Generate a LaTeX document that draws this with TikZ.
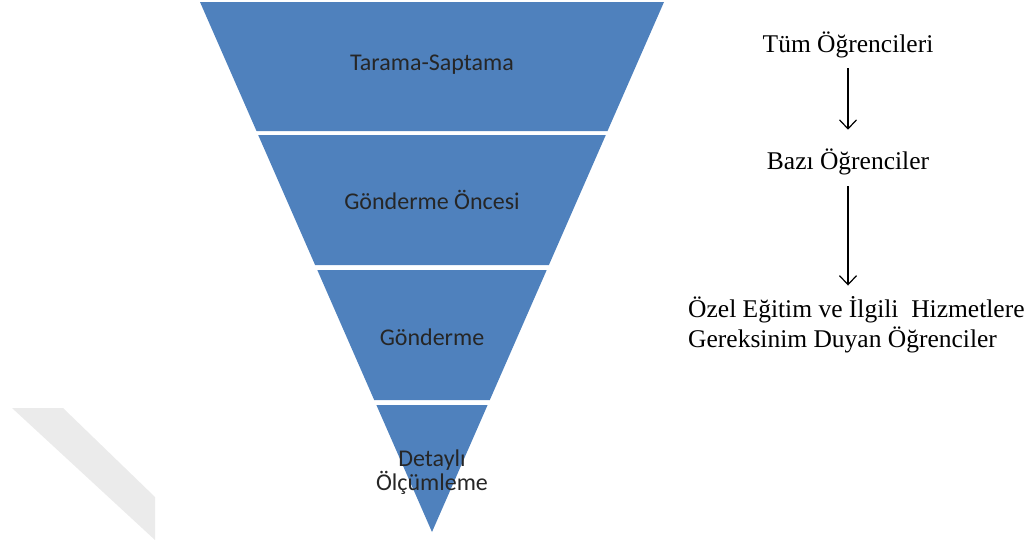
\documentclass[tikz,border=0pt]{standalone}
\usepackage{fontspec}
\setmainfont{Liberation Serif}
\newfontfamily\bandfont{Carlito}
\usepackage{tikz}
\usetikzlibrary{calc}
\usetikzlibrary{arrows.meta}
\definecolor{funnelblue}{HTML}{4F81BD}
\newcommand{\band}[4]{\fill[funnelblue] ( #1 , #2 ) -- ( {864-#1} , #2 ) -- ( {864-#3} , #4 ) -- ( #3 , #4 ) -- cycle;}

\begin{document}
\begin{tikzpicture}[x=1pt, y=-1pt,
        bandtext/.style={font=\bandfont\fontsize{24}{23}\selectfont, inner sep=0pt, text=black!85},
        listtext/.style={font=\fontsize{25.5}{30}\selectfont, inner sep=0pt},
        flow/.style={-{Straight Barb[length=9pt, width=17pt]}, line width=1.2pt}]
            \useasboundingbox (0,0) rectangle (1026,544);
            % watermark
            \fill[black!8] (12,408) -- (63,408) -- (155,497) -- (155,540) -- cycle;
            % band 1
            \band{200}{2}{256.5}{131}
            % band 2
            \band{258.2}{135}{315.1}{265}
            % band 3
            \band{317.3}{270}{374.2}{400}
            % band 4
            \band{376.4}{405}{432}{532}
            % funnel labels
            \node[bandtext] (screen) at (432,65) {Tarama-Saptama};
            \node[bandtext] (prerefer) at (432,200) {Gönderme Öncesi};
            \node[bandtext] (refer) at (432,337) {Gönderme};
            \node[bandtext, align=center] (assess) at (432,472) {Detaylı\\Ölçümleme};
            % students
            \node[listtext] (all) at (848,45) {Tüm Öğrencileri};
            \node[listtext] (some) at (848,162) {Bazı Öğrenciler};
            \node[listtext, anchor=west, align=left] (special) at (688,325) {Özel Eğitim ve İlgili\ \ Hizmetlere\\Gereksinim Duyan Öğrenciler};
            \draw[flow, shorten <=10pt, shorten >=19pt] (all.south -| all) -- (some);
            \draw[flow, shorten <=11pt, shorten >=11pt] (some) -- (some |- special.north);
        \end{tikzpicture}
\end{document}
